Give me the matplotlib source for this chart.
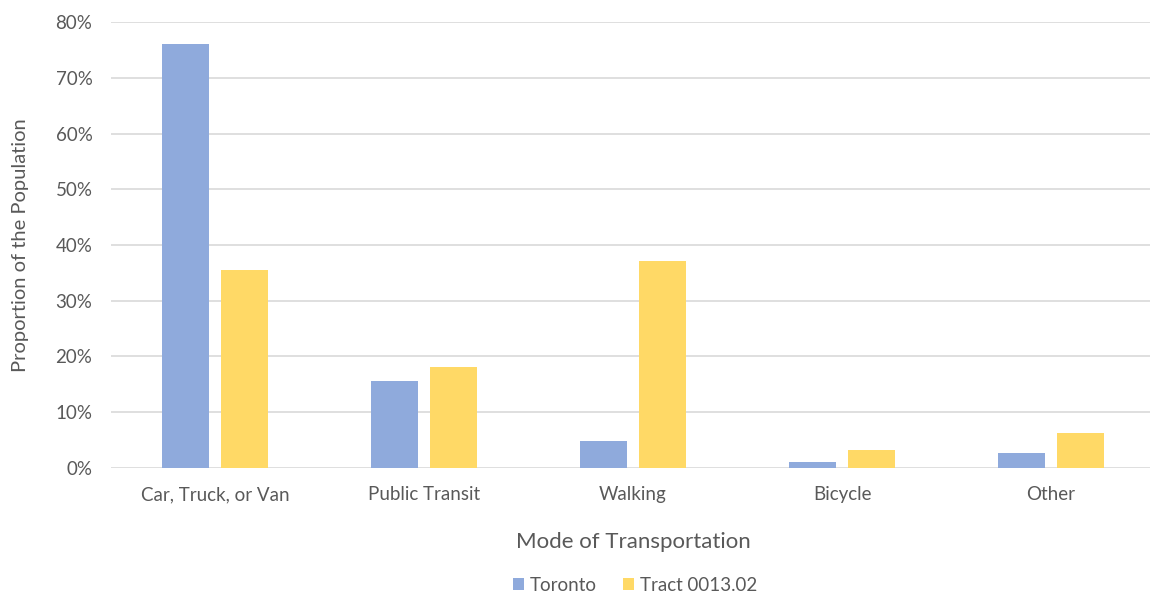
import numpy as np
import matplotlib.pyplot as plt
from matplotlib.ticker import PercentFormatter

plt.rcParams['font.family'] = ['Lato', 'DejaVu Sans']

modes = ['Car, Truck, or Van', 'Public Transit', 'Walking', 'Bicycle', 'Other']
toronto = [76.1, 15.6, 4.8, 1.0, 2.6]
tract = [35.5, 18.1, 37.1, 3.2, 6.3]
series_names = ['Toronto', 'Tract 0013.02']

blue = '#8FAADC'
yellow = '#FFD966'
grey = '#595959'

fig = plt.figure(figsize=(11.5, 5.96), dpi=100)
ax = fig.add_axes([0.0961, 0.2148, 0.9087, 0.7482])

x = np.arange(len(modes))
w = 0.225
off = 0.141
ax.bar(x - off, toronto, w, color=blue, label=series_names[0], zorder=3)
ax.bar(x + off, tract, w, color=yellow, label=series_names[1], zorder=3)

ax.set_xlim(-0.5, len(modes) - 0.5)
ax.set_ylim(0, 80)
ax.set_yticks(np.arange(0, 81, 10))
ax.yaxis.set_major_formatter(PercentFormatter(decimals=0))
ax.grid(axis='y', color='#D9D9D9', linewidth=1.2, zorder=0)
for s in ax.spines.values():
    s.set_visible(False)
ax.tick_params(length=0, colors=grey, labelsize=13.5)
ax.tick_params(axis='y', pad=13)
ax.tick_params(axis='x', pad=13)
ax.set_xticks(x)
ax.set_xticklabels(modes)

ax.set_xlabel('Mode of Transportation', fontsize=16, color=grey, labelpad=21)
ax.set_ylabel('Proportion of the Population', fontsize=14.5, color=grey, labelpad=19)

fig.legend(loc='lower center', bbox_to_anchor=(0.552, -0.025), ncol=2, frameon=False,
           fontsize=13.5, labelcolor=grey, handlelength=0.6, handleheight=0.6,
           handletextpad=0.3, columnspacing=1.4)

fig.savefig('out.png', dpi=100)
